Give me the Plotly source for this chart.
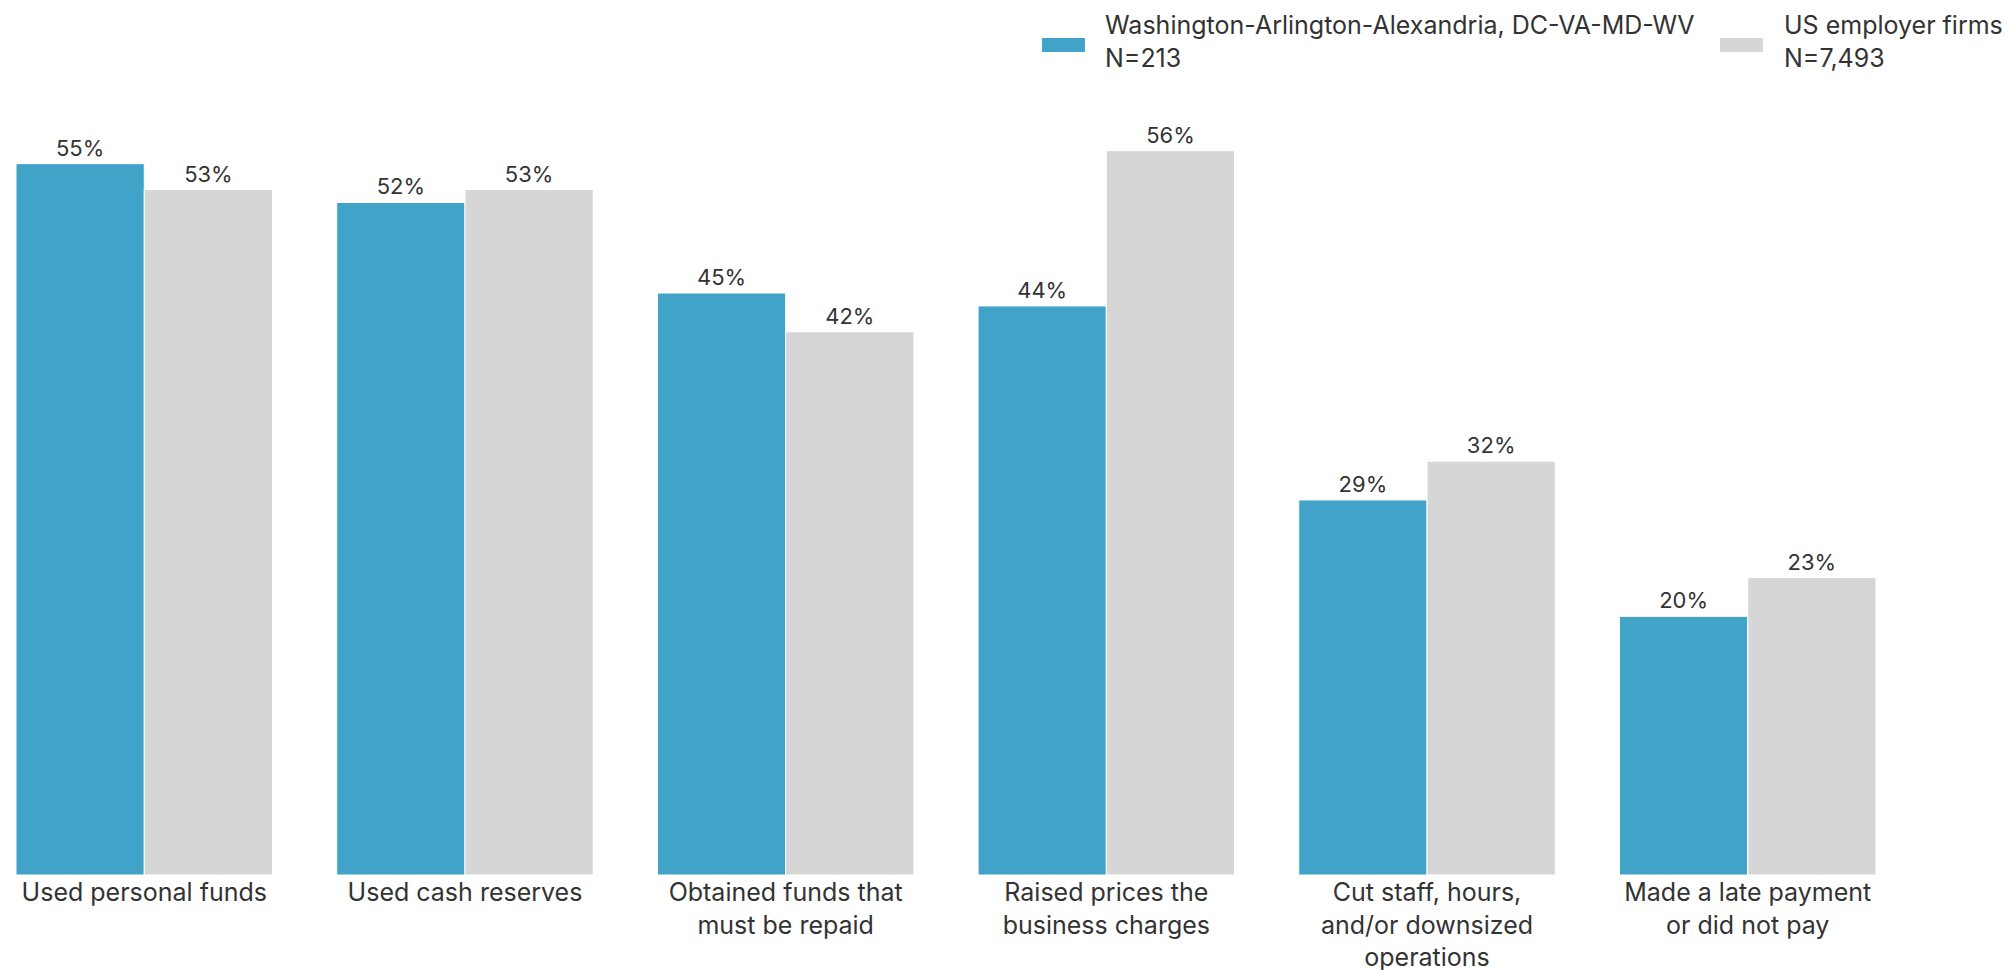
import plotly.graph_objects as go

# categorias e valores (%)
categorias = [
    "Used personal funds",
    "Used cash reserves",
    "Obtained funds that<br>must be repaid",
    "Raised prices the<br>business charges",
    "Cut staff, hours,<br>and/or downsized<br>operations",
    "Made a late payment<br>or did not pay",
]
washington = [55, 52, 45, 44, 29, 20]
us_firms = [53, 53, 42, 56, 32, 23]

nome_washington = "Washington-Arlington-Alexandria, DC-VA-MD-WV<br>N=213"
nome_us = "US employer firms<br>N=7,493"

azul = "#42A3C8"
cinza = "#D6D6D6"
cor_texto = "#333333"
fonte = "Inter"

fig = go.Figure()

fig.add_trace(go.Bar(
    x=categorias,
    y=washington,
    name=nome_washington,
    text=[f"{v}%" for v in washington],
    textposition="outside",
    marker_color=azul,
    marker_line=dict(color="white", width=1),
    cliponaxis=False,
))

fig.add_trace(go.Bar(
    x=categorias,
    y=us_firms,
    name=nome_us,
    text=[f"{v}%" for v in us_firms],
    textposition="outside",
    marker_color=cinza,
    marker_line=dict(color="white", width=1),
    cliponaxis=False,
))

fig.update_traces(textfont=dict(size=22, color=cor_texto))

# a página tem 8px de margem no body: compensado nas margens
fig.update_layout(
    width=2015,
    height=970,
    barmode="group",
    bargap=0.2,
    bargroupgap=0,
    plot_bgcolor="white",
    paper_bgcolor="white",
    font=dict(family=fonte, size=22, color=cor_texto),
    margin=dict(l=8, r=147, t=91, b=103, autoexpand=False),
    xaxis=dict(
        range=[-0.4, 5.4],
        showgrid=False,
        showline=False,
        ticks="",
        automargin=False,
        tickfont=dict(size=25, color=cor_texto),
    ),
    yaxis=dict(
        range=[0, 60],
        visible=False,
        automargin=False,
    ),
    showlegend=False,
)

# Legenda manual (retângulos largos como no original)
legenda = [
    (0.5516, 0.5747, 0.5844, azul, nome_washington),
    (0.9161, 0.9392, 0.9495, cinza, nome_us),
]
for x0, x1, xt, cor, nome in legenda:
    fig.add_shape(
        type="rect", xref="paper", yref="paper",
        x0=x0, x1=x1, y0=1.0606, y1=1.0786,
        fillcolor=cor, line=dict(width=0),
    )
    fig.add_annotation(
        text=nome, xref="paper", yref="paper",
        x=xt, y=1.0735, xanchor="left", yanchor="middle",
        align="left", showarrow=False,
        font=dict(size=25, color=cor_texto),
    )

fig.write_html("out.html")
